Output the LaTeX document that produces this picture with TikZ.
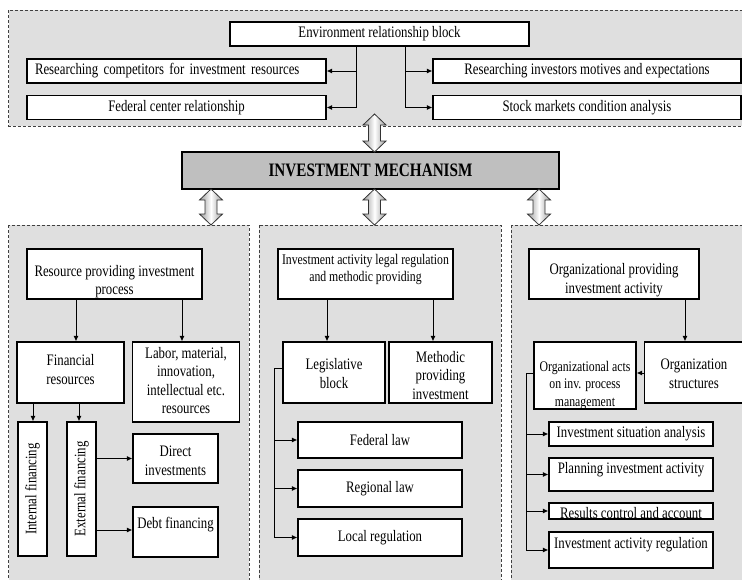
\documentclass[tikz,border=0pt]{standalone}
\usepackage{fontspec}
\setmainfont{Liberation Serif}[FakeStretch=0.8]
\usetikzlibrary{arrows.meta,calc}
\newcommand{\dblarr}[3]{% x, ytop, length
  \pgfmathsetmacro\dashaft{#3-22}
  \path[dbl] (#1,#2) -- ++(11.5,11) -- ++(-5.5,0) -- ++(0,\dashaft) -- ++(5.5,0) -- ++(-11.5,11)
    -- ++(-11.5,-11) -- ++(5.5,0) -- ++(0,-\dashaft) -- ++(-5.5,0) -- cycle;}
% text block whose first baseline is #1 pt above the node centre
\newcommand{\bt}[2]{\raisebox{#1pt}[0pt][0pt]{\begin{tabular}[t]{@{}c@{}}#2\end{tabular}}}
\begin{document}
\begin{tikzpicture}[x=1pt,y=-1pt,
  box/.style={draw, line width=1.1pt, fill=white, inner sep=1pt, align=center,
    font=\fontsize{16}{18.5}\selectfont},
  small/.style={font=\fontsize{14.7}{17.5}\selectfont},
  arr/.style={line width=1pt, -{Latex[length=5.5pt,width=5pt]}},
  ln/.style={line width=1pt},
  panel/.style={draw=black!75, dash pattern=on 3pt off 2pt, line width=0.9pt, fill=gray!25},
  dbl/.style={draw=black!80, line width=0.8pt, left color=gray!80, right color=gray!80, middle color=white}]
\useasboundingbox (0,0) rectangle (742,579);

% panels
\path[panel] (8.5,10) rectangle (752,126);
\path[panel] (8.5,225) rectangle (249,590);
\path[panel] (259,225) rectangle (501,590);
\path[panel] (511,225) rectangle (752,590);

% top block
\node[box, minimum width=299pt, minimum height=24pt] (env) at (379.5,34) {Environment relationship block};
\node[box, minimum width=299pt, minimum height=24pt, inner xsep=8pt, text width=283pt, align=left] (comp) at (176.5,71) {Researching competitors for investment resources};
\node[box, minimum width=299pt, minimum height=24pt] (fed) at (176.5,107.5) {Federal center relationship};
\node[box, minimum width=308pt, minimum height=24pt] (inv) at (587,71) {Researching investors motives and expectations};
\node[box, minimum width=308pt, minimum height=24pt] (stock) at (587,107.5) {Stock markets condition analysis};

\coordinate (lj) at (356,107.5);
\coordinate (rj) at (405,107.5);
\draw[ln] (env.south -| lj) -- (lj);
\draw[ln] (env.south -| rj) -- (rj);
\draw[arr] (comp.east -| lj) -- (comp.east);
\draw[arr] (lj) -- (fed.east |- lj);
\draw[arr] (inv.west -| rj) -- (inv.west);
\draw[arr] (rj) -- (stock.west |- rj);

% mechanism
\node[draw, line width=1.1pt, fill=gray!50, minimum width=377pt, minimum height=37pt,
  font=\fontsize{19}{21}\selectfont\bfseries] (mech) at (370.5,170.5) {INVESTMENT MECHANISM};

\dblarr{374.5}{114}{38}
\dblarr{211}{189}{36}
\dblarr{374.5}{189}{36}
\dblarr{539}{189}{36}

% left panel
\node[box, minimum width=175pt, minimum height=50pt] (res) at (114.5,274) {\bt{-2}{Resource providing investment\\process}};
\node[box, minimum width=107pt, minimum height=61pt] (fin) at (70.5,372.5) {\bt{7}{Financial\\resources}};
\node[box, minimum width=107pt, minimum height=80pt] (lab) at (186,382) {\bt{24}{Labor, material,\\innovation,\\intellectual etc.\\resources}};
\node[box, rotate=90, minimum width=134pt, minimum height=29pt] (int) at (32.5,489) {Internal financing};
\node[box, rotate=90, minimum width=134pt, minimum height=29pt] (ext) at (81.5,489) {External financing};
\node[box, minimum width=85pt, minimum height=49pt] (dir) at (175.5,458.5) {\bt{2}{Direct\\investments}};
\node[box, minimum width=85pt, minimum height=50pt] (debt) at (175.5,532) {\bt{3.2}{Debt financing}};

\draw[arr] (res.south -| 76,0) -- (fin.north -| 76,0);
\draw[arr] (res.south -| 182,0) -- (lab.north -| 182,0);
\draw[arr] (fin.south -| 33,0) -- (int.east -| 33,0);
\draw[arr] (fin.south -| 79,0) -- (ext.east -| 79,0);
\draw[arr] (ext.south |- dir.west) -- (dir.west);
\draw[arr] (ext.south |- 0,530) -- (debt.west |- 0,530);

% middle panel
\node[box, small, minimum width=175pt, minimum height=50pt] (leg) at (365.5,274) {\bt{9.6}{Investment activity legal regulation\\and methodic providing}};
\node[box, minimum width=102pt, minimum height=61pt] (legb) at (334,372.5) {\bt{3}{Legislative\\block}};
\node[box, minimum width=103pt, minimum height=61pt] (meth) at (440.5,372.5) {\bt{10.5}{Methodic\\providing\\investment}};
\node[box, minimum width=164pt, minimum height=36pt] (fedl) at (380,440) {Federal law};
\node[box, minimum width=164pt, minimum height=37pt] (regl) at (380,488.5) {Regional law};
\node[box, minimum width=164pt, minimum height=37pt] (locr) at (380,537.5) {Local regulation};

\draw[arr] (leg.south -| 327,0) -- (legb.north -| 327,0);
\draw[arr] (leg.south -| 433,0) -- (meth.north -| 433,0);
\coordinate (mb) at (274,537.5);
\draw[ln] (legb.west |- 0,368) -- (mb |- 0,368) -- (mb);
\draw[arr] (mb |- fedl.west) -- (fedl.west);
\draw[arr] (mb |- regl.west) -- (regl.west);
\draw[arr] (mb) -- (locr.west);

% right panel
\node[box, minimum width=170pt, minimum height=50pt] (org) at (614,274) {\bt{-0.8}{Organizational providing\\investment activity}};
\node[box, minimum width=99pt, minimum height=61pt] (orgs) at (694,372.5) {\bt{2.7}{Organization\\structures}};
\node[box, small, minimum width=102pt, minimum height=67pt] (acts) at (585,375.5) {\bt{4.1}{Organizational acts\\on inv. process\\management}};
\node[box, minimum width=164pt, minimum height=24pt] (isa) at (631,434) {Investment situation analysis};
\node[box, minimum width=164pt, minimum height=33pt] (pia) at (631,474.5) {\bt{0.7}{Planning investment activity}};
\node[box, minimum width=164pt, minimum height=16pt] (rca) at (631,511) {\bt{-7.5}{Results control and account}};
\node[box, minimum width=164pt, minimum height=36pt] (iar) at (631,550) {\bt{1.2}{Investment activity regulation}};

\draw[arr] (org.south -| 685,0) -- (orgs.north -| 685,0);
\draw[arr] (orgs.west |- 0,373) -- (acts.east |- 0,373);
\coordinate (rb) at (526,550);
\draw[ln] (acts.west |- 0,373) -- (rb |- 0,373) -- (rb);
\draw[arr] (rb |- isa.west) -- (isa.west);
\draw[arr] (rb |- pia.west) -- (pia.west);
\draw[arr] (rb |- rca.west) -- (rca.west);
\draw[arr] (rb) -- (iar.west);
\end{tikzpicture}
\end{document}
